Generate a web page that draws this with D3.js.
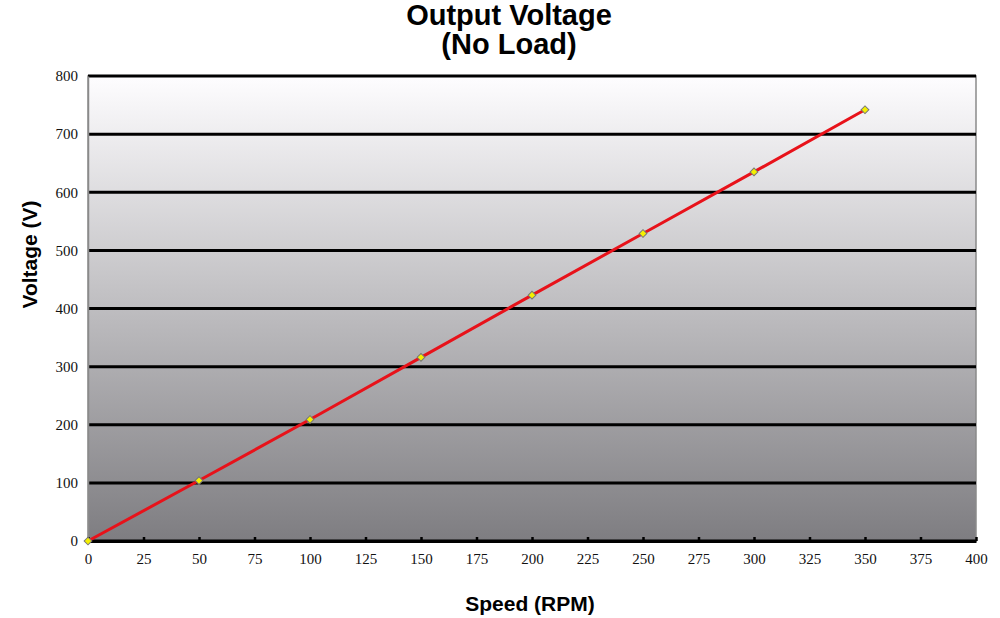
<!DOCTYPE html>
<html>
<head>
<meta charset="utf-8">
<script src="https://cdn.jsdelivr.net/npm/d3@7"></script>
<style>
  body { margin: 0; background: #fff; }
  svg { display: block; }
</style>
</head>
<body>
<div id="chart"></div>
<script>
// data
var speeds = [0, 50, 100, 150, 200, 250, 300, 350]
var voltages = [0, 104, 209, 316, 423, 529, 635, 742]
var xTicks = [0, 25, 50, 75, 100, 125, 150, 175, 200, 225, 250, 275, 300, 325, 350, 375, 400]
var yTicks = [0, 100, 200, 300, 400, 500, 600, 700, 800]

var width = 1000
var height = 618
var margin = { top: 76, right: 24, bottom: 77, left: 88 }
var plotW = width - margin.left - margin.right
var plotH = height - margin.top - margin.bottom

var svg = d3.select('#chart').append('svg')
  .attr('width', width)
  .attr('height', height)

// background gradient for plot area
var defs = svg.append('defs')
var grad = defs.append('linearGradient')
  .attr('id', 'bg')
  .attr('x1', 0).attr('y1', 0).attr('x2', 0).attr('y2', 1)
grad.append('stop').attr('offset', '0%').attr('stop-color', '#fefdff')
grad.append('stop').attr('offset', '100%').attr('stop-color', '#7e7d81')

var x = d3.scaleLinear().domain([0, 400]).range([0, plotW])
var y = d3.scaleLinear().domain([0, 800]).range([plotH, 0])

var g = svg.append('g')
  .attr('transform', 'translate(' + margin.left + ',' + margin.top + ')')

g.append('rect')
  .attr('width', plotW)
  .attr('height', plotH)
  .attr('fill', 'url(#bg)')
  .attr('stroke', '#8a8a8a')
  .attr('stroke-width', 1.5)

// horizontal gridlines
g.selectAll('.grid')
  .data(yTicks)
  .enter().append('line')
  .attr('class', 'grid')
  .attr('x1', 0)
  .attr('x2', plotW)
  .attr('y1', function (d) { return y(d) })
  .attr('y2', function (d) { return y(d) })
  .attr('stroke', '#000')
  .attr('stroke-width', 3)

// y axis
var yAxis = g.append('g')
  .call(d3.axisLeft(y).tickValues(yTicks).tickSize(0).tickPadding(10))
yAxis.select('.domain').attr('stroke', '#8a8a8a').attr('stroke-width', 1.5)
yAxis.selectAll('text')
  .attr('font-family', 'Liberation Serif, serif')
  .attr('font-size', 15)
  .attr('fill', '#111')

// x axis
var xAxis = g.append('g')
  .attr('transform', 'translate(0,' + plotH + ')')
  .call(d3.axisBottom(x).tickValues(xTicks).tickSizeInner(-4).tickSizeOuter(0).tickPadding(12))
xAxis.select('.domain').attr('stroke', '#000').attr('stroke-width', 3)
xAxis.selectAll('line').attr('stroke', '#000').attr('stroke-width', 2.5)
xAxis.selectAll('text')
  .attr('font-family', 'Liberation Serif, serif')
  .attr('font-size', 15)
  .attr('fill', '#111')

// series line
var line = d3.line()
  .x(function (d, i) { return x(speeds[i]) })
  .y(function (d) { return y(d) })

g.append('path')
  .datum(voltages)
  .attr('d', line)
  .attr('fill', 'none')
  .attr('stroke', '#e8121a')
  .attr('stroke-width', 3)

// diamond markers (square turned 45 degrees)
g.selectAll('.pt')
  .data(voltages)
  .enter().append('path')
  .attr('class', 'pt')
  .attr('d', d3.symbol().type(d3.symbolSquare).size(30))
  .attr('transform', function (d, i) { return 'translate(' + x(speeds[i]) + ',' + y(d) + ') rotate(45)' })
  .attr('fill', '#f5f000')
  .attr('stroke', '#777')
  .attr('stroke-width', 1)

// titles
var title = svg.append('text')
  .attr('x', 509)
  .attr('text-anchor', 'middle')
  .attr('font-family', 'Liberation Sans, Arial, sans-serif')
  .attr('font-weight', 'bold')
  .attr('font-size', 29)
  .attr('fill', '#000')
title.append('tspan').attr('x', 509).attr('y', 25).text('Output Voltage')
title.append('tspan').attr('x', 509).attr('y', 54).text('(No Load)')

svg.append('text')
  .attr('x', 530)
  .attr('y', 611)
  .attr('text-anchor', 'middle')
  .attr('font-family', 'Liberation Sans, Arial, sans-serif')
  .attr('font-weight', 'bold')
  .attr('font-size', 21)
  .text('Speed (RPM)')

svg.append('text')
  .attr('transform', 'translate(37,' + (margin.top + plotH / 2 - 54) + ') rotate(-90)')
  .attr('text-anchor', 'middle')
  .attr('font-family', 'Liberation Sans, Arial, sans-serif')
  .attr('font-weight', 'bold')
  .attr('font-size', 21)
  .text('Voltage (V)')
</script>
</body>
</html>
